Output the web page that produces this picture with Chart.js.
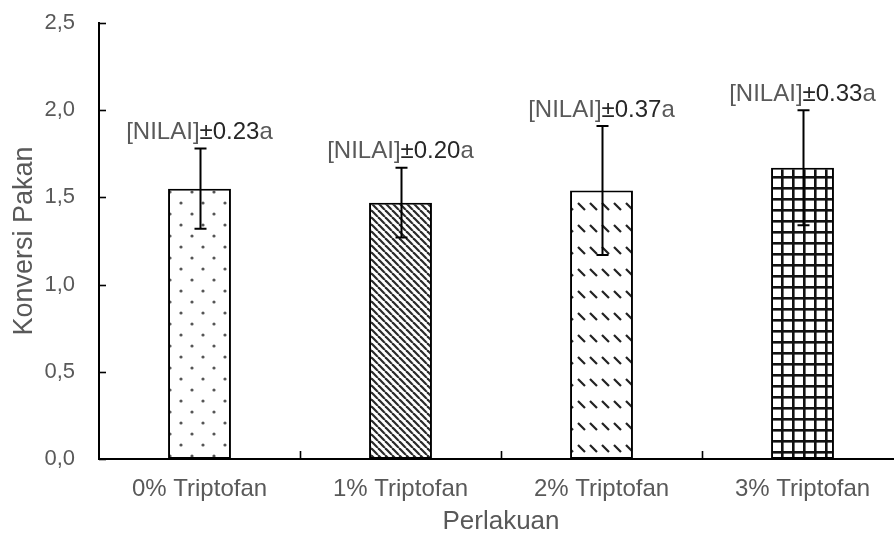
<!DOCTYPE html>
<html>
<head>
<meta charset="utf-8">
<script src="https://cdn.jsdelivr.net/npm/chart.js@4/dist/chart.umd.min.js"></script>
<style>
  html, body { margin: 0; padding: 0; background: #fff; }
  .clip { width: 894px; height: 535px; overflow: hidden; position: relative; }
  .box { width: 904px; height: 535px; position: absolute; left: 0; top: 0; }
</style>
</head>
<body>
<div class="clip">
  <div class="box"><canvas id="chart"></canvas></div>
</div>
<script>
// Data
const CATEGORIES = ['0% Triptofan', '1% Triptofan', '2% Triptofan', '3% Triptofan'];
const MEANS = [1.55, 1.47, 1.54, 1.67];
const SD = [0.23, 0.20, 0.37, 0.33];
const LETTERS = ['a', 'a', 'a', 'a'];
const Y_TICKS = [0, 0.5, 1.0, 1.5, 2.0, 2.5];

const GREY = '#595959';
const FONT = "'Liberation Sans', Arial, sans-serif";

Chart.defaults.font.family = FONT;

// Small repeating tiles used as bar fills (Excel-style patterns)
function makePattern(w, h, draw) {
  const c = document.createElement('canvas');
  c.width = w;
  c.height = h;
  const g = c.getContext('2d');
  g.fillStyle = '#fff';
  g.fillRect(0, 0, w, h);
  draw(g, w, h);
  return g.createPattern(c, 'repeat');
}

const dotted = makePattern(22, 22, (g) => {
  g.fillStyle = '#555';
  [[5, 5], [16, 16]].forEach(([x, y]) => {
    g.beginPath();
    g.arc(x, y, 1.6, 0, Math.PI * 2);
    g.fill();
  });
});

const diagonal = makePattern(7, 7, (g, w, h) => {
  g.strokeStyle = '#2a2a2a';
  g.lineWidth = 2.2;
  [-w, 0, w].forEach(k => {
    g.beginPath();
    g.moveTo(k, 0);
    g.lineTo(k + w, h);
    g.stroke();
  });
});

const dashedDiagonal = makePattern(12, 22, (g) => {
  g.strokeStyle = '#222';
  g.lineWidth = 2.2;
  g.beginPath();
  g.moveTo(2, 5);
  g.lineTo(9, 12);
  g.stroke();
});

const grid = makePattern(11, 11, (g) => {
  g.fillStyle = '#111';
  g.fillRect(0, 0, 11, 2.6);
  g.fillRect(0, 0, 2.6, 11);
});

// Inward tick marks on both axes (Excel style)
const innerTicks = {
  id: 'innerTicks',
  afterDatasetsDraw(chart) {
    const { ctx, chartArea, scales } = chart;
    ctx.save();
    ctx.strokeStyle = '#000';
    ctx.lineWidth = 1.6;
    scales.y.ticks.forEach(t => {
      const py = Math.round(scales.y.getPixelForValue(t.value)) + 0.5;
      ctx.beginPath();
      ctx.moveTo(chartArea.left, py);
      ctx.lineTo(chartArea.left + 7, py);
      ctx.stroke();
    });
    for (let i = 0; i < CATEGORIES.length; i++) {
      const px = i < CATEGORIES.length - 1
        ? (scales.x.getPixelForValue(i) + scales.x.getPixelForValue(i + 1)) / 2
        : chartArea.right;
      ctx.beginPath();
      ctx.moveTo(Math.round(px) + 0.5, chartArea.bottom);
      ctx.lineTo(Math.round(px) + 0.5, chartArea.bottom - 8);
      ctx.stroke();
    }
    ctx.restore();
  }
};

// Error bars plus the "[NILAI]±sd letter" labels above them
const errorBars = {
  id: 'errorBars',
  afterDatasetsDraw(chart) {
    const { ctx, scales } = chart;
    const meta = chart.getDatasetMeta(0);
    ctx.save();
    meta.data.forEach((bar, i) => {
      const x = Math.round(bar.x) + 0.5;
      const top = scales.y.getPixelForValue(MEANS[i] + SD[i]);
      const bot = scales.y.getPixelForValue(MEANS[i] - SD[i]);
      ctx.strokeStyle = '#000';
      ctx.lineWidth = 2;
      ctx.beginPath();
      ctx.moveTo(x, top);
      ctx.lineTo(x, bot);
      ctx.moveTo(x - 6, top);
      ctx.lineTo(x + 6, top);
      ctx.moveTo(x - 6, bot);
      ctx.lineTo(x + 6, bot);
      ctx.stroke();

      // label
      ctx.font = '24px ' + FONT;
      ctx.textBaseline = 'middle';
      ctx.textAlign = 'left';
      const parts = [
        ['[NILAI]', GREY],
        ['±' + SD[i].toFixed(2), '#262626'],
        [LETTERS[i], GREY]
      ];
      const total = parts.reduce((s, p) => s + ctx.measureText(p[0]).width, 0);
      let tx = bar.x - total / 2;
      const ty = top - 16;
      parts.forEach(([txt, col]) => {
        ctx.fillStyle = col;
        ctx.fillText(txt, tx, ty);
        tx += ctx.measureText(txt).width;
      });
    });
    ctx.restore();
  }
};

new Chart(document.getElementById('chart'), {
  type: 'bar',
  data: {
    labels: CATEGORIES,
    datasets: [{
      data: MEANS,
      backgroundColor: [dotted, diagonal, dashedDiagonal, grid],
      borderColor: '#000',
      borderWidth: 2,
      borderSkipped: false,
      barPercentage: 1,
      categoryPercentage: 0.313
    }]
  },
  options: {
    responsive: true,
    maintainAspectRatio: false,
    animation: false,
    layout: { padding: { top: 23, left: 11, right: 1, bottom: 0 } },
    plugins: {
      legend: { display: false },
      tooltip: { enabled: false }
    },
    scales: {
      x: {
        grid: { display: false, drawTicks: false },
        border: { display: true, color: '#000', width: 2 },
        afterFit: (axis) => {
          axis.height = 76;
          axis.paddingLeft = 0;
          axis.paddingRight = 0;
        },
        ticks: {
          color: GREY,
          font: { size: 24 },
          padding: 16,
          maxRotation: 0
        },
        title: {
          display: true,
          text: 'Perlakuan',
          color: GREY,
          font: { size: 26, lineHeight: 1 },
          padding: { top: 6, bottom: 0 }
        }
      },
      y: {
        min: Y_TICKS[0],
        max: Y_TICKS[Y_TICKS.length - 1],
        afterBuildTicks: (axis) => { axis.ticks = Y_TICKS.map(v => ({ value: v })); },
        afterFit: (axis) => {
          axis.width = 88;
          axis.paddingTop = 0;
          axis.paddingBottom = 0;
        },
        grid: { display: false, drawTicks: false },
        border: { display: true, color: '#000', width: 2 },
        ticks: {
          color: GREY,
          font: { size: 22 },
          padding: 24,
          callback: (v) => Number(v).toFixed(1).replace('.', ',')
        },
        title: {
          display: true,
          text: 'Konversi Pakan',
          color: GREY,
          font: { size: 27, lineHeight: 1 },
          padding: { top: 0, bottom: 4 }
        }
      }
    }
  },
  plugins: [innerTicks, errorBars]
});
</script>
</body>
</html>
